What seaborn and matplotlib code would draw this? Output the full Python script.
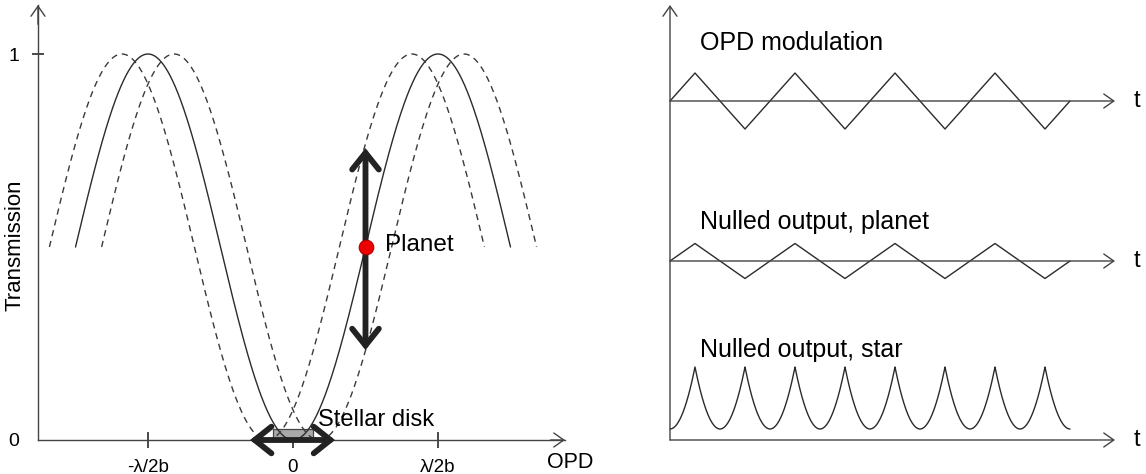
import numpy as np
import pandas as pd
import matplotlib
matplotlib.use("Agg")
import matplotlib.pyplot as plt
import seaborn as sns
from matplotlib.patches import Rectangle

# ---------------- data ----------------
# Left panel: transmission vs OPD (OPD in units of lambda/b)
opd_range = [-0.75, 0.75]            # span of the drawn transmission curves
dash_shifts = [-0.09, 0.09]          # OPD offsets of the two dashed curves
x_tick_pos = [-0.5, 0.0, 0.5]
x_tick_labels = ["-λ/2b", "0", "λ/2b"]
y_tick_pos = [0, 1]
y_tick_labels = ["0", "1"]
planet_opd = 0.25
planet_T = 0.5
planet_swing = [0.233, 0.756]        # transmission range swept by the planet
disk_opd = [-0.069, 0.069]           # stellar disk extent
disk_T = 0.028
star_swing = [-0.148, 0.145]         # OPD modulation range shown on the star

# Right panel: time signals (t in modulation periods)
t_vertices = [0, 0.25, 0.75, 1.25, 1.75, 2.25, 2.75, 3.25, 3.75, 4.0]
opd_modulation = [0, 1, -1, 1, -1, 1, -1, 1, -1, 0]
planet_amp = 17.5 / 28.0             # planet signal relative to OPD modulation
star_leak = 11.0                     # star null floor
star_peak = 73.0                     # star null at maximal OPD excursion

# ---------------- style ----------------
sns.set_theme(style="white")
plt.rcParams["font.family"] = ["Liberation Sans", "DejaVu Sans"]

INK = "#2b2b2b"
AXC = "#444444"

fig = plt.figure(figsize=(11.46, 4.74), dpi=100)
axL = fig.add_axes([0, 0, 610 / 1146, 1])
axR = fig.add_axes([660 / 1146, 0, 486 / 1146, 1])

# ---------------- left panel ----------------
x0, sx, y0, sy = 293.0, 290.0, 440.0, 386.0   # pixel layout helpers
axL.set_xlim((0 - x0) / sx, (610 - x0) / sx)
axL.set_ylim((y0 - 474) / sy, y0 / sy)
x_axis_start = (38 - x0) / sx
x_axis_end = (565 - x0) / sx
y_axis_end = (y0 - 5) / sy

opd = np.linspace(opd_range[0], opd_range[1], 600)
solid = pd.DataFrame({"opd": opd, "T": np.sin(np.pi * opd) ** 2})
sns.lineplot(data=solid, x="opd", y="T", ax=axL, color=INK, linewidth=1.0,
             sort=False, estimator=None, zorder=3)
for sh in dash_shifts:
    d = pd.DataFrame({"opd": opd + sh, "T": np.sin(np.pi * opd) ** 2})
    sns.lineplot(data=d, x="opd", y="T", ax=axL, color="#3a3a3a", linewidth=1.0,
                 linestyle=(0, (4.5, 3.5)), sort=False, estimator=None, zorder=3)

# axes (spines + arrowheads)
for s in ["top", "right"]:
    axL.spines[s].set_visible(False)
axL.spines["left"].set_position(("data", x_axis_start))
axL.spines["bottom"].set_position(("data", 0))
axL.spines["left"].set_bounds(0, y_axis_end)
axL.spines["bottom"].set_bounds(x_axis_start, x_axis_end)
for s in ["left", "bottom"]:
    axL.spines[s].set_color(AXC)
    axL.spines[s].set_linewidth(1.0)
    axL.spines[s].set_zorder(2)

axL.set_xticks(x_tick_pos)
axL.set_xticklabels(x_tick_labels)
axL.set_yticks(y_tick_pos)
axL.set_yticklabels(y_tick_labels)
axL.tick_params(axis="x", direction="inout", length=11, width=1.2, color=INK,
                pad=8, labelsize=13.5, labelcolor="black", bottom=True)
axL.tick_params(axis="y", direction="inout", length=9, width=1.2, color=INK,
                pad=9, labelsize=14, labelcolor="black", left=True)
axL.yaxis.get_major_ticks()[0].tick1line.set_visible(False)
axL.set_xlabel("")
axL.set_ylabel("")

head = dict(arrowstyle="->,head_length=0.6,head_width=0.42", color=AXC, lw=1.0,
            shrinkA=0, shrinkB=0)
axL.annotate("", xy=(x_axis_start, y_axis_end), xytext=(x_axis_start, y_axis_end - 0.05),
             arrowprops=head)
axL.annotate("", xy=(x_axis_end, 0), xytext=(x_axis_end - 0.05, 0), arrowprops=head)

axL.text((15 - x0) / sx, 0.505, "Transmission", rotation=90, ha="center", va="center",
         fontsize=16, color="black")
axL.text((570 - x0) / sx, (y0 - 463) / sy, "OPD", ha="center", va="center",
         fontsize=15.5, color="black")

# stellar disk
axL.add_patch(Rectangle((disk_opd[0], 0), disk_opd[1] - disk_opd[0], disk_T,
                        facecolor="#a9a9a9", edgecolor="#444444", lw=0.9, zorder=2.5))
thick = dict(arrowstyle="<->,head_length=1.0,head_width=0.8", color="#222222",
             lw=4.2, shrinkA=0, shrinkB=0, joinstyle="miter")
axL.annotate("", xy=(star_swing[1], 0), xytext=(star_swing[0], 0), arrowprops=thick,
             zorder=5)
axL.text(0.086, 0.052, "Stellar disk", ha="left", va="center", fontsize=17,
         color="black", zorder=6)

# planet
axL.annotate("", xy=(planet_opd, planet_swing[1]), xytext=(planet_opd, planet_swing[0]),
             arrowprops=thick, zorder=5)
axL.plot([planet_opd], [planet_T], "o", ms=10.5, mfc="#ee0000", mec="#aa0000",
         mew=0.8, zorder=7)
axL.text(0.317, 0.505, "Planet", ha="left", va="center", fontsize=17.5, color="black",
         zorder=6)

# ---------------- right panel ----------------
tx0, tsx = 670.0, 100.0
axR.set_xlim((660 - tx0) / tsx, (1146 - tx0) / tsx)
axR.set_ylim(-34, 440)
axR.axis("off")

opd_base, planet_base, star_base = 339.0, 179.0, 0.0
opd_amp = 28.0
t_axis_end = (1115 - tx0) / tsx

thin = dict(arrowstyle="->,head_length=0.6,head_width=0.42", color=AXC, lw=1.0,
            shrinkA=0, shrinkB=0)
axR.annotate("", xy=(0, 435), xytext=(0, 0), arrowprops=thin)
for base in [opd_base, planet_base, star_base]:
    axR.annotate("", xy=(t_axis_end, base), xytext=(0, base), arrowprops=thin)
    axR.text((1137 - tx0) / tsx, base, "t", ha="center", va="center", fontsize=17,
             color="black")

mod_df = pd.DataFrame({"t": t_vertices,
                       "opd": opd_base + opd_amp * np.array(opd_modulation)})
sns.lineplot(data=mod_df, x="t", y="opd", ax=axR, color=INK, linewidth=1.0,
             sort=False, estimator=None)
pl_df = pd.DataFrame({"t": t_vertices,
                      "sig": planet_base + opd_amp * planet_amp * np.array(opd_modulation)})
sns.lineplot(data=pl_df, x="t", y="sig", ax=axR, color=INK, linewidth=1.0,
             sort=False, estimator=None)
t_dense = np.linspace(t_vertices[0], t_vertices[-1], 1601)
m = np.interp(t_dense, t_vertices, opd_modulation)
st_df = pd.DataFrame({"t": t_dense,
                      "sig": star_base + star_leak + (star_peak - star_leak) * m ** 2})
sns.lineplot(data=st_df, x="t", y="sig", ax=axR, color=INK, linewidth=1.0,
             sort=False, estimator=None)
axR.set_xlabel("")
axR.set_ylabel("")

axR.text(0.30, 440 - 43, "OPD modulation", ha="left", va="center", fontsize=18,
         color="black")
axR.text(0.30, 440 - 222, "Nulled output, planet", ha="left", va="center", fontsize=18,
         color="black")
axR.text(0.30, 440 - 350, "Nulled output, star", ha="left", va="center", fontsize=18,
         color="black")

fig.savefig("out.png", dpi=100)
